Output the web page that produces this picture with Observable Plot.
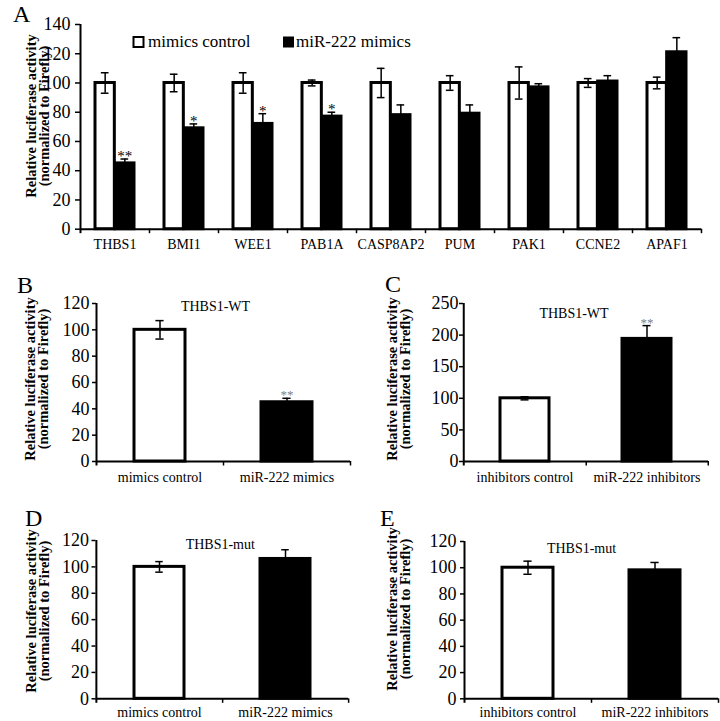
<!DOCTYPE html>
<html><head><meta charset="utf-8">
<script src="https://cdn.jsdelivr.net/npm/d3@7"></script>
<script src="https://cdn.jsdelivr.net/npm/@observablehq/plot@0.6"></script>
<style>
body{margin:0;background:#fff;}
#root{position:relative;width:720px;height:721px;overflow:hidden;font-family:"Liberation Serif","Times New Roman",serif;}
.panel{position:absolute;}
svg.ov{position:absolute;left:0;top:0;pointer-events:none;}
</style></head><body><div id="root"></div>
<script>
// ---------- Panel A data ----------
const genes = ["THBS1","BMI1","WEE1","PAB1A","CASP8AP2","PUM","PAK1","CCNE2","APAF1"];
const controlA = [100,100,100,100,100,100,100,100,100];
const controlAErr = [7,6,7,2,10,5,11,3,4];
const mimicsA = [45,69,72,77,78,79,97,101,121];
const mimicsAErr = [3,3,7,3,7,6,2.5,4,10];
const starsA = ["**","*","*","*","","","","",""];
const seriesA = ["mimics control","miR-222 mimics"];
const yTicksA = [0,20,40,60,80,100,120,140];

// ---------- Panels B-E data ----------
const groupsMimics = ["mimics control","miR-222 mimics"];
const groupsInhib = ["inhibitors control","miR-222 inhibitors"];
const valuesB = [100,45];  const errB = [7,3];   const starsB = ["","**"];
const valuesC = [100,194]; const errC = [2.5,21]; const starsC = ["","**"];
const valuesD = [100,106]; const errD = [4,7];   const starsD = ["",""];
const valuesE = [100,98];  const errE = [5,6];   const starsE = ["",""];
const yTicks120 = [0,20,40,60,80,100,120];
const yTicks250 = [0,50,100,150,200,250];

const FONT = '"Liberation Serif","Times New Roman",serif';
const root = document.getElementById("root");
function place(el, left, top){
  const d = document.createElement("div");
  d.className = "panel"; d.style.left = left+"px"; d.style.top = top+"px";
  d.appendChild(el); root.appendChild(d);
}

// ---------- Panel A ----------
(function(){
  const W=720,H=255,mL=80,mR=19,mT=24,mB=26.3;
  const n=genes.length, step=(W-mL-mR)/n, pi=0.43, bw=step*(1-pi);
  const pxu=(H-mT-mB)/140, tk=4.5/pxu, cap=(bw/2-8)/2;
  const data = genes.map((g,i)=>({gene:g,c:controlA[i],ce:controlAErr[i],m:mimicsA[i],me:mimicsAErr[i],s:starsA[i]}));
  const chart = Plot.plot({
    width:W,height:H,marginLeft:mL,marginRight:mR,marginTop:mT,marginBottom:mB,
    style:{fontFamily:FONT,fontSize:"14px",color:"#000",background:"transparent"},
    x:{domain:genes,paddingInner:pi,paddingOuter:pi/2},
    y:{domain:[0,140]},
    marks:[
      Plot.barY(data,{x:"gene",y:"c",fill:"white",stroke:"black",strokeWidth:3,insetRight:bw/2}),
      Plot.barY(data,{x:"gene",y:"m",fill:"black",stroke:"black",strokeWidth:3,insetLeft:bw/2}),
      Plot.ruleX(data,{x:"gene",y1:d=>d.c-d.ce,y2:d=>d.c+d.ce,dx:-bw/4,strokeWidth:1.5}),
      Plot.tickY(data,{x:"gene",y:d=>d.c+d.ce,dx:-bw/4,insetLeft:cap+bw/4,insetRight:cap+bw/4,strokeWidth:1.5}),
      Plot.tickY(data,{x:"gene",y:d=>d.c-d.ce,dx:-bw/4,insetLeft:cap+bw/4,insetRight:cap+bw/4,strokeWidth:1.5}),
      Plot.ruleX(data,{x:"gene",y1:d=>d.m,y2:d=>d.m+d.me,dx:bw/4,strokeWidth:1.5}),
      Plot.tickY(data,{x:"gene",y:d=>d.m+d.me,dx:bw/4,insetLeft:cap+bw/4,insetRight:cap+bw/4,strokeWidth:1.5}),
      Plot.text(data,{x:"gene",y:d=>d.m+d.me,text:"s",dx:bw/4,dy:-3,fontSize:15,fill:"black"}),
      Plot.ruleY([0],{strokeWidth:2}),
      Plot.ruleX([genes[0]],{x:d=>d,dx:-step/2,y1:-tk,y2:140,strokeWidth:2}),
      Plot.ruleX(genes,{x:d=>d,dx:step/2,y1:0,y2:-tk,strokeWidth:1.5}),
      Plot.axisY({ticks:yTicksA,tickSize:5,tickPadding:5,fontSize:18,label:null,strokeWidth:1.5}),
      Plot.axisX({tickSize:0,tickPadding:10,fontSize:14,label:null})
    ]
  });
  place(chart,0,0);
})();

// ---------- Panels B-E ----------
function small(o){
  const n=o.groups.length, step=(o.W-o.mL-o.mR)/n, pi=0.6, bw=step*(1-pi);
  const max=o.domain[1], pxu=(o.H-o.mT-o.mB)/max, tk=4.5/pxu, cap=(bw-8)/2;
  const data=o.groups.map((g,i)=>({g,v:o.values[i],e:o.errs[i],s:o.stars[i]}));
  const chart = Plot.plot({
    width:o.W,height:o.H,marginLeft:o.mL,marginRight:o.mR,marginTop:o.mT,marginBottom:o.mB,
    style:{fontFamily:FONT,fontSize:"14px",color:"#000",background:"transparent"},
    x:{domain:o.groups,paddingInner:pi,paddingOuter:pi/2},
    y:{domain:o.domain},
    marks:[
      Plot.barY([data[0]],{x:"g",y:"v",fill:"white",stroke:"black",strokeWidth:3}),
      Plot.barY([data[1]],{x:"g",y:"v",fill:"black",stroke:"black",strokeWidth:3}),
      Plot.ruleX(data,{x:"g",y1:d=>d.v-d.e,y2:d=>d.v+d.e,strokeWidth:1.5,stroke:"black"}),
      Plot.tickY(data,{x:"g",y:d=>d.v+d.e,insetLeft:cap,insetRight:cap,strokeWidth:1.5,stroke:"black"}),
      Plot.tickY([data[0]],{x:"g",y:d=>d.v-d.e,insetLeft:cap,insetRight:cap,strokeWidth:1.5,stroke:"black"}),
      Plot.text(data,{x:"g",y:d=>d.v+d.e,text:"s",dy:-3,fontSize:13,fill:"#808080"}),
      Plot.text([o.title],{text:d=>d,frameAnchor:"top",lineAnchor:"top",dx:o.tdx,dy:o.tdy,fontSize:14,fill:"black"}),
      Plot.ruleY([0],{strokeWidth:2}),
      Plot.ruleX([o.groups[0]],{x:d=>d,dx:-step/2,y1:-tk,y2:max,strokeWidth:2}),
      Plot.ruleX(o.groups,{x:d=>d,dx:step/2,y1:0,y2:-tk,strokeWidth:1.5}),
      Plot.axisY({ticks:o.ticks,tickSize:4,tickPadding:o.tp,fontSize:18,label:null,strokeWidth:1.5}),
      Plot.axisX({tickSize:0,tickPadding:o.xp,fontSize:14,label:null})
    ]
  });
  place(chart,o.left,o.top);
}
small({groups:groupsMimics,values:valuesB,errs:errB,stars:starsB,ticks:yTicks120,domain:[0,120],
  left:0,top:280,W:360,H:210,mL:96,mR:10,mT:23,mB:29,title:"THBS1-WT",tdx:-8,tdy:-2,tp:3,xp:11});
small({groups:groupsInhib,values:valuesC,errs:errC,stars:starsC,ticks:yTicks250,domain:[0,250],
  left:360,top:280,W:360,H:210,mL:103,mR:12,mT:23,mB:29,title:"THBS1-WT",tdx:-12,tdy:5,tp:1,xp:11});
small({groups:groupsMimics,values:valuesD,errs:errD,stars:starsD,ticks:yTicks120,domain:[0,120],
  left:0,top:520,W:360,H:201,mL:95.5,mR:12,mT:20,mB:22.7,title:"THBS1-mut",tdx:-2,tdy:-1,tp:3,xp:8.5});
small({groups:groupsInhib,values:valuesE,errs:errE,stars:starsE,ticks:yTicks120,domain:[0,120],
  left:360,top:520,W:360,H:201,mL:104,mR:2,mT:21,mB:22.7,title:"THBS1-mut",tdx:-10,tdy:2,tp:4,xp:8.5});

// ---------- Overlay: panel letters, y labels, legend ----------
const ylabs = [[36,48.5,116],[35,47.5,379],[397,409.5,379],[36,48.5,611],[397,409.5,609]];
let ov = `<svg class="ov" width="720" height="721" font-family='${FONT}'>`;
ov += `<text x="13" y="21.5" font-size="24">A</text>`;
ov += `<text x="17" y="293" font-size="24">B</text>`;
ov += `<text x="385" y="292" font-size="24">C</text>`;
ov += `<text x="25" y="526" font-size="24">D</text>`;
ov += `<text x="380" y="526" font-size="24">E</text>`;
for(const [x1,x2,cy] of ylabs){
  ov += `<text transform="translate(${x1},${cy}) rotate(-90)" text-anchor="middle" font-size="14.5" font-weight="bold">Relative luciferase activity</text>`;
  ov += `<text transform="translate(${x2},${cy}) rotate(-90)" text-anchor="middle" font-size="14.5" font-weight="bold">(normalized to Firefly)</text>`;
}
ov += `<rect x="133.5" y="37" width="10" height="10" fill="white" stroke="black" stroke-width="2"/>`;
ov += `<text x="148" y="47" font-size="17">${seriesA[0]}</text>`;
ov += `<rect x="283" y="36.5" width="11" height="11" fill="black"/>`;
ov += `<text x="296" y="47" font-size="17">${seriesA[1]}</text>`;
ov += `</svg>`;
root.insertAdjacentHTML("beforeend", ov);
</script></body></html>
